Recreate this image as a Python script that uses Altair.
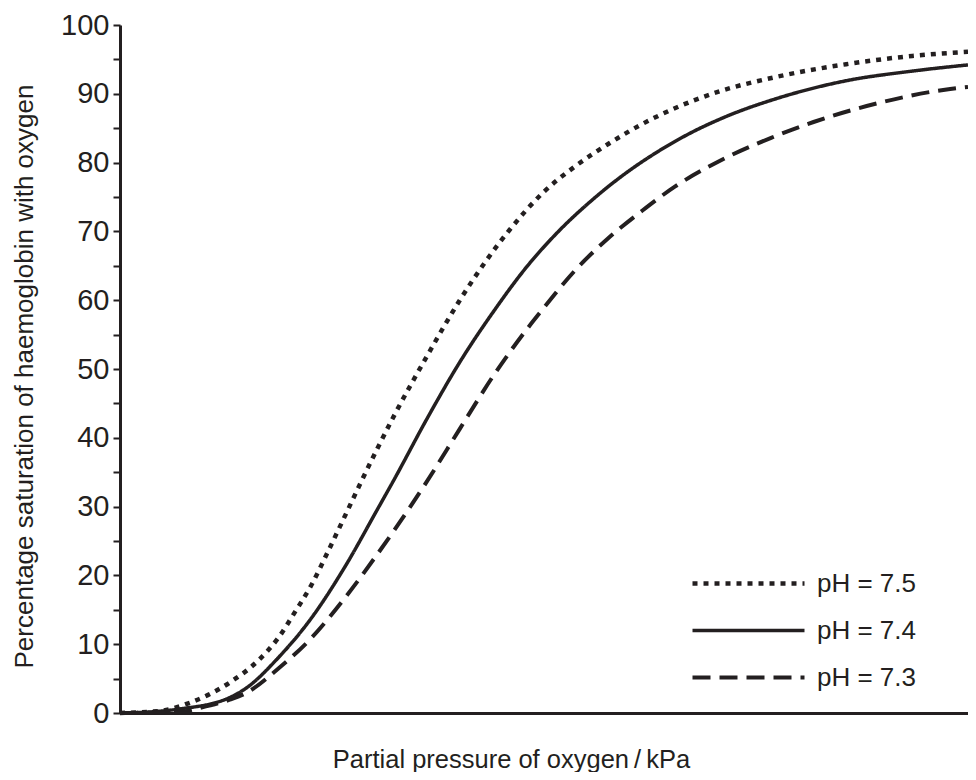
import altair as alt
import pandas as pd

# Partial pressure of oxygen (kPa) and percentage saturation
ph75_kpa = [0, 0.65, 1.14, 1.80, 2.29, 2.62, 2.89, 3.16, 3.43, 3.76, 3.97, 4.53, 5.07, 5.61, 6.05, 6.43, 6.98, 7.52, 8.06, 8.62, 9.16, 9.81, 10.91, 11.99, 13.08, 14.0]
ph75_sat = [0, 0.29, 1.45, 4.36, 7.7, 11.0, 14.7, 18.6, 23.4, 29.5, 33.4, 43.3, 51.9, 60.0, 65.8, 70.2, 75.6, 79.5, 82.7, 85.6, 87.9, 90.1, 92.6, 94.3, 95.5, 96.1]

ph74_kpa = [0, 0.49, 0.98, 1.80, 2.08, 2.62, 3.16, 3.71, 4.25, 4.53, 5.07, 5.61, 6.17, 6.71, 7.25, 7.80, 8.34, 8.88, 9.44, 9.98, 10.91, 11.99, 13.08, 14.0]
ph74_sat = [0, 0.15, 0.58, 2.2, 3.6, 8.1, 13.8, 21.2, 29.6, 34.0, 42.8, 51.0, 58.4, 64.8, 70.1, 74.6, 78.4, 81.6, 84.4, 86.6, 89.5, 91.9, 93.3, 94.2]

ph73_kpa = [0, 0.98, 1.31, 1.80, 2.08, 2.62, 3.16, 3.71, 4.25, 4.53, 5.07, 5.61, 6.17, 6.71, 6.98, 7.52, 8.06, 8.62, 9.16, 9.89, 10.75, 11.45, 12.54, 13.62, 14.0]
ph73_sat = [0, 0.15, 0.73, 1.9, 2.9, 6.5, 10.9, 16.7, 23.1, 26.6, 33.7, 41.3, 49.1, 55.7, 58.7, 64.4, 69.0, 73.0, 76.5, 80.2, 83.6, 85.9, 88.7, 90.6, 91.0]

series_labels = ["pH = 7.5", "pH = 7.4", "pH = 7.3"]
series_dashes = [[5, 6], [1, 0], [18, 9]]
series_widths = [4.5, 3.5, 4]

y_ticks = list(range(0, 101, 5))

rows = []
for label, xs, ys in zip(series_labels, [ph75_kpa, ph74_kpa, ph73_kpa], [ph75_sat, ph74_sat, ph73_sat]):
    for xv, yv in zip(xs, ys):
        rows.append({"ph": label, "kpa": xv, "sat": yv})
df = pd.DataFrame(rows)

ink = "#231f20"
font = "Liberation Sans"

legend = alt.Legend(
    title=None, orient="none", legendX=570, legendY=535,
    symbolType="stroke", symbolSize=112 * 112, clipHeight=47,
    symbolStrokeColor=ink,
    labelFont=font, labelFontSize=26, labelColor=ink, labelOffset=10,
    rowPadding=0, padding=0,
)

chart = alt.Chart(df).mark_line(
    interpolate="monotone", color=ink
).encode(
    x=alt.X(
        "kpa:Q",
        scale=alt.Scale(domain=[0, 14], nice=False, zero=True),
        axis=alt.Axis(
            title="Partial pressure of oxygen\u2009/\u2009kPa",
            ticks=False, labels=False, grid=False,
            domainColor=ink, domainWidth=3,
            titleFont=font, titleFontSize=25.5, titleFontWeight="normal", titleColor=ink,
            titleX=391, titleY=54, titleAlign="center", titleBaseline="alphabetic",
        ),
    ),
    y=alt.Y(
        "sat:Q",
        scale=alt.Scale(domain=[0, 100], nice=False),
        axis=alt.Axis(
            title="Percentage saturation of haemoglobin with oxygen",
            values=y_ticks,
            labelExpr="datum.value % 10 === 0 ? datum.label : ''",
            grid=False,
            tickSize=7, tickWidth=2, tickColor=ink,
            domainColor=ink, domainWidth=3,
            labelFont=font, labelFontSize=29, labelColor=ink, labelPadding=4,
            titleFont=font, titleFontSize=26, titleFontWeight="normal", titleColor=ink,
            titleAngle=-90, titleX=-88, titleY=351, titleAlign="center", titleBaseline="alphabetic",
        ),
    ),
    strokeDash=alt.StrokeDash(
        "ph:N",
        scale=alt.Scale(domain=series_labels, range=series_dashes),
        legend=legend,
    ),
    strokeWidth=alt.StrokeWidth(
        "ph:N",
        scale=alt.Scale(type="ordinal", domain=series_labels, range=series_widths),
        legend=legend,
    ),
).properties(
    width=848,
    height=688,
    padding={"left": 112, "top": 17, "right": 0, "bottom": 59},
    autosize=alt.AutoSizeParams(type="none"),
).configure_view(stroke=None)

chart.save("out.html", embed_options={"renderer": "svg", "actions": False})
